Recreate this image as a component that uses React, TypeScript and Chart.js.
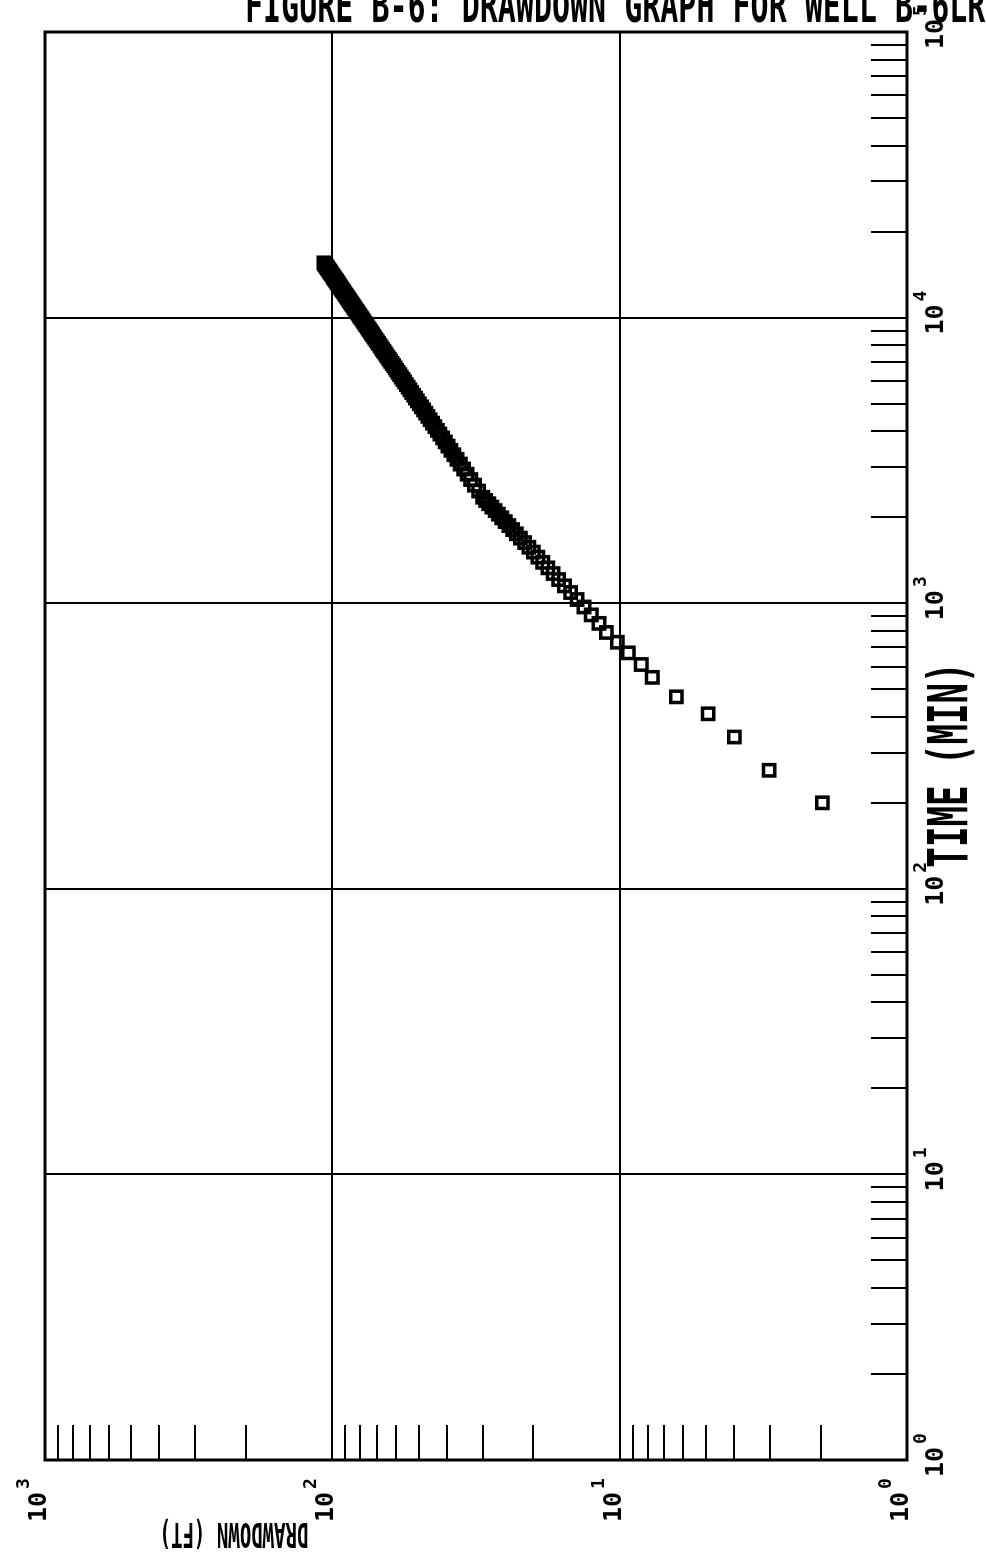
import React, { useEffect, useRef } from "react";
import { Chart, registerables } from "chart.js";

Chart.register(...registerables);

// ---------- data ----------
const TIME_MIN = [
  200, 260, 340, 410, 470,
  550, 610, 670, 730, 790, 850, 910, 970, 1030, 1090,
  1150, 1210, 1270, 1330, 1390, 1450, 1510, 1570, 1630, 1690,
  1750, 1810, 1870, 1930, 1990, 2050, 2110, 2170, 2230, 2290,
  2350, 2470, 2590, 2710, 2830, 2950, 3070, 3190, 3310, 3430,
  3550, 3670, 3790, 3910, 4030, 4150, 4270, 4390, 4510, 4630,
  4750, 4870, 4990,
  5110, 5230, 5350, 5470, 5590, 5710, 5830, 5950, 6070, 6190,
  6310, 6430, 6550, 6670, 6790, 6910, 7030, 7150, 7270, 7390,
  7510, 7630, 7750, 7870, 7990, 8110, 8230, 8350, 8470, 8590,
  8710, 8830, 8950, 9070, 9190, 9310, 9430, 9550, 9670, 9790,
  9910, 10030, 10150, 10270, 10390, 10510, 10630, 10750, 10870, 10990,
  11110, 11230, 11350, 11470, 11590, 11710, 11830, 11950, 12070, 12190,
  12310, 12430, 12550, 12670, 12790, 12910, 13030, 13150, 13270, 13390,
  13510, 13630, 13750, 13870, 13990, 14110, 14230, 14350, 14470, 14590,
  14710, 14830, 14950, 15070, 15190, 15310, 15430, 15550,
];

const DRAWDOWN_FT = [
  1.97, 3.02, 3.99, 4.92, 6.35,
  7.70, 8.41, 9.33, 10.19, 11.12, 11.80, 12.56, 13.31, 14.07, 14.82,
  15.56, 16.31, 17.05, 17.78, 18.52, 19.25, 19.98, 20.71, 21.43, 22.15,
  22.87, 23.59, 24.30, 25.02, 25.73, 26.43, 27.14, 27.85, 28.55, 29.26,
  29.96, 30.98, 32.0, 32.99, 33.97, 34.93, 35.88, 36.82, 37.75, 38.66,
  39.57, 40.46, 41.35, 42.23, 43.1, 43.96, 44.81, 45.65, 46.49, 47.31,
  48.14, 48.95, 49.76,
  50.56, 51.35, 52.15, 52.94, 53.71, 54.48, 55.25, 56.02, 56.77, 57.52,
  58.27, 59.02, 59.76, 60.49, 61.23, 61.96, 62.68, 63.39, 64.11, 64.82,
  65.52, 66.22, 66.92, 67.62, 68.31, 69.0, 69.69, 70.38, 71.06, 71.73,
  72.41, 73.08, 73.74, 74.4, 75.06, 75.72, 76.37, 77.03, 77.68, 78.33,
  78.97, 79.62, 80.26, 80.9, 81.53, 82.16, 82.79, 83.42, 84.05, 84.67,
  85.3, 85.92, 86.53, 87.14, 87.76, 88.37, 88.98, 89.58, 90.19, 90.79,
  91.39, 91.99, 92.58, 93.18, 93.77, 94.36, 94.95, 95.54, 96.13, 96.71,
  97.3, 97.88, 98.46, 99.04, 99.61, 100.19, 100.76, 101.33, 101.9, 102.47,
  103.03, 103.6, 104.16, 104.72, 105.28, 105.84, 106.4, 106.96,
];

const TIME_DECADES = [1, 10, 100, 1000, 10000, 100000];
const TIME_EXPONENTS = ["0", "1", "2", "3", "4", "5"];
const DRAWDOWN_DECADES = [1, 10, 100, 1000];
const DRAWDOWN_EXPONENTS = ["0", "1", "2", "3"];
const MINOR_STEPS = [2, 3, 4, 5, 6, 7, 8, 9];

const X_TITLE = "TIME (MIN)";
const Y_TITLE = "DRAWDOWN (FT)";
const FIGURE_TITLE = "FIGURE B-6: DRAWDOWN GRAPH FOR WELL B-6LR";

// canvas is drawn in landscape and turned a quarter turn on the page
const W = 1559;
const H = 986;
const MONO = '"DejaVu Sans Mono", "Liberation Mono", monospace';

function drawText(
  ctx: CanvasRenderingContext2D,
  text: string,
  x: number,
  y: number,
  fontPx: number,
  scaleX: number,
  align: CanvasTextAlign,
  rotation = 0
) {
  ctx.save();
  ctx.translate(x, y);
  if (rotation) ctx.rotate(rotation);
  ctx.scale(scaleX, 1);
  ctx.font = `bold ${fontPx}px ${MONO}`;
  ctx.textAlign = align;
  ctx.textBaseline = "alphabetic";
  ctx.fillText(text, 0, 0);
  ctx.restore();
}

function drawPower(ctx: CanvasRenderingContext2D, exp: string, xLeft: number, baseline: number) {
  const baseSize = 25;
  const supSize = 18;
  ctx.save();
  ctx.font = `bold ${baseSize}px ${MONO}`;
  ctx.textAlign = "left";
  ctx.textBaseline = "alphabetic";
  ctx.fillText("10", xLeft, baseline);
  const w = ctx.measureText("10").width;
  ctx.font = `bold ${supSize}px ${MONO}`;
  ctx.fillText(exp, xLeft + w + 3, baseline - 17);
  ctx.restore();
}

const plotterPlugin = {
  id: "plotterAxes",
  beforeDatasetsDraw(chart: any) {
    const { ctx, chartArea: a, scales } = chart;
    const xs = scales.x;
    const ys = scales.y;
    ctx.save();
    ctx.strokeStyle = "#000";
    ctx.fillStyle = "#000";

    // frame
    ctx.lineWidth = 3;
    ctx.strokeRect(a.left, a.top, a.right - a.left, a.bottom - a.top);

    // minor tick marks, pointing inward
    ctx.lineWidth = 2;
    ctx.beginPath();
    for (const d of TIME_DECADES.slice(0, -1)) {
      for (const k of MINOR_STEPS) {
        const px = Math.round(xs.getPixelForValue(d * k));
        ctx.moveTo(px, a.bottom);
        ctx.lineTo(px, a.bottom - 36);
      }
    }
    for (const d of DRAWDOWN_DECADES.slice(0, -1)) {
      for (const k of MINOR_STEPS) {
        const py = Math.round(ys.getPixelForValue(d * k));
        ctx.moveTo(a.left, py);
        ctx.lineTo(a.left + 35, py);
      }
    }
    ctx.stroke();

    // decade labels
    TIME_DECADES.forEach((v, i) => {
      drawPower(ctx, TIME_EXPONENTS[i], xs.getPixelForValue(v) - 17, a.bottom + 36);
    });
    DRAWDOWN_DECADES.forEach((v, i) => {
      drawPower(ctx, DRAWDOWN_EXPONENTS[i], a.left - 62, ys.getPixelForValue(v) + 1);
    });

    // axis titles
    drawText(ctx, X_TITLE, (a.left + a.right) / 2 - 19, a.bottom + 60, 55, 0.62, "center");
    drawText(ctx, Y_TITLE, a.left - 63, 234, 34, 0.56, "center", -Math.PI / 2);

    // figure caption (upright on the page, clipped at the page top)
    drawText(ctx, FIGURE_TITLE, W - 22, 245, 46, 0.652, "left", Math.PI / 2);

    ctx.restore();
  },
};

export default function App() {
  const ref = useRef<HTMLCanvasElement | null>(null);

  useEffect(() => {
    if (!ref.current) return;
    const points = TIME_MIN.map((t, i) => ({ x: t, y: DRAWDOWN_FT[i] }));
    const chart = new Chart(ref.current, {
      type: "scatter",
      data: {
        datasets: [
          {
            label: "Drawdown",
            data: points,
            pointStyle: "rect",
            pointRadius: 8,
            pointBorderWidth: 3.5,
            pointBorderColor: "#000",
            pointBackgroundColor: "rgba(255,255,255,0)",
            showLine: false,
          },
        ],
      },
      options: {
        animation: false,
        responsive: false,
        maintainAspectRatio: false,
        devicePixelRatio: 1,
        layout: { padding: { left: 99, right: 32, top: 45, bottom: 79 } },
        plugins: { legend: { display: false }, tooltip: { enabled: false } },
        scales: {
          x: {
            type: "logarithmic",
            min: 1,
            max: 100000,
            afterBuildTicks: (s: any) => {
              s.ticks = TIME_DECADES.map((v) => ({ value: v }));
            },
            ticks: { display: false },
            grid: { color: "#000", lineWidth: 2, drawTicks: false },
            border: { display: false },
          },
          y: {
            type: "logarithmic",
            min: 1,
            max: 1000,
            afterBuildTicks: (s: any) => {
              s.ticks = DRAWDOWN_DECADES.map((v) => ({ value: v }));
            },
            ticks: { display: false },
            grid: { color: "#000", lineWidth: 2, drawTicks: false },
            border: { display: false },
          },
        },
      },
      plugins: [plotterPlugin],
    } as any);
    return () => chart.destroy();
  }, []);

  return (
    <div
      style={{
        position: "absolute",
        left: 0,
        top: 0,
        width: 986,
        height: 1559,
        overflow: "hidden",
        background: "#fff",
      }}
    >
      <canvas
        ref={ref}
        width={W}
        height={H}
        style={{
          position: "absolute",
          left: 0,
          top: 0,
          width: W,
          height: H,
          transformOrigin: "0 0",
          transform: `translate(0px, ${W}px) rotate(-90deg)`,
        }}
      />
    </div>
  );
}
